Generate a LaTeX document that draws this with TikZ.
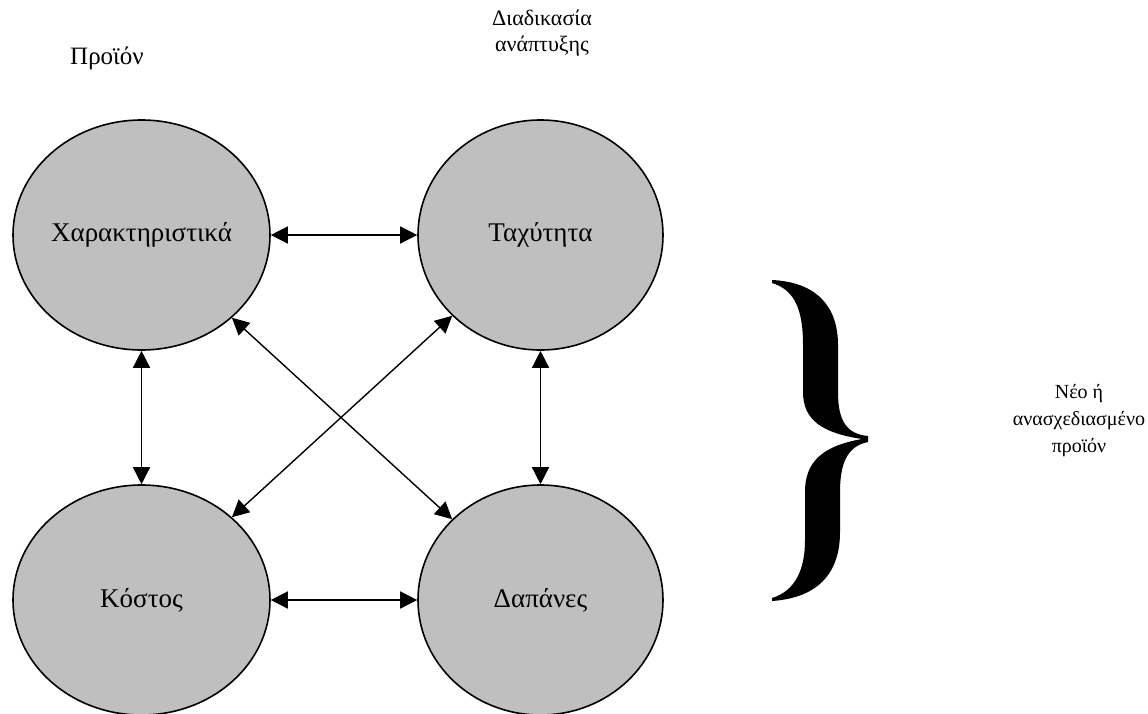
\documentclass[tikz,border=0pt]{standalone}
\usepackage{fontspec}
\setmainfont{Liberation Serif}
\usetikzlibrary{shapes.geometric,arrows.meta}
\begin{document}
\begin{tikzpicture}[x=1pt,y=-1pt,
  blob/.style={ellipse,draw=black,line width=1.6pt,fill=black!25,inner sep=0pt,
    font=\fontsize{27}{30}\selectfont},
  widekey/.style={blob,minimum width=257pt,minimum height=230pt},
  narrowkey/.style={blob,minimum width=245pt,minimum height=230pt},
  link/.style={line width=1.4pt,{Triangle[length=17pt,width=17pt]}-{Triangle[length=17pt,width=17pt]}},
  caption/.style={align=center,inner sep=0pt}]
\useasboundingbox (0,0) rectangle (1148,713);

% the four factors
\node[widekey]   (feat)  at (141.5,235) {Χαρακτηριστικά};
\node[narrowkey] (speed) at (540.5,235) {Ταχύτητα};
\node[widekey]   (cost)  at (141.5,600) {Κόστος};
\node[narrowkey] (spend) at (540.5,600) {Δαπάνες};

% two-way relations
\draw[link] (feat) -- (speed);
\draw[link] (cost) -- (spend);
\draw[link] (feat) -- (cost);
\draw[link] (speed) -- (spend);
\draw[link] (feat) -- (spend);
\draw[link] (cost) -- (speed);

% column headings
\node[caption,font=\fontsize{25}{28}\selectfont] (prod) at (107,58) {Προϊόν};
\node[caption,font=\fontsize{22}{26}\selectfont] (proc) at (542,33) {Διαδικασία\\ανάπτυξης};

% large curly brace and outcome
\fill[black] (772,280)
  .. controls (815,282) and (838,305) .. (838,345) -- (838,392)
  .. controls (838,420) and (846,434) .. (868,436) -- (868,442)
  .. controls (848,446) and (840,462) .. (840,492) -- (840,532)
  .. controls (840,576) and (815,598) .. (772,601) -- (772,598)
  .. controls (795,591) and (805,570) .. (805,540) -- (805,492)
  .. controls (805,462) and (822,446) .. (862,439)
  .. controls (822,433) and (803,420) .. (803,392) -- (803,345)
  .. controls (803,310) and (795,290) .. (772,283) -- cycle;
\node[caption,font=\fontsize{20}{27}\selectfont] (outcome) at (1079,421) {Νέο ή\\ανασχεδιασμένο\\προϊόν};
\end{tikzpicture}
\end{document}
